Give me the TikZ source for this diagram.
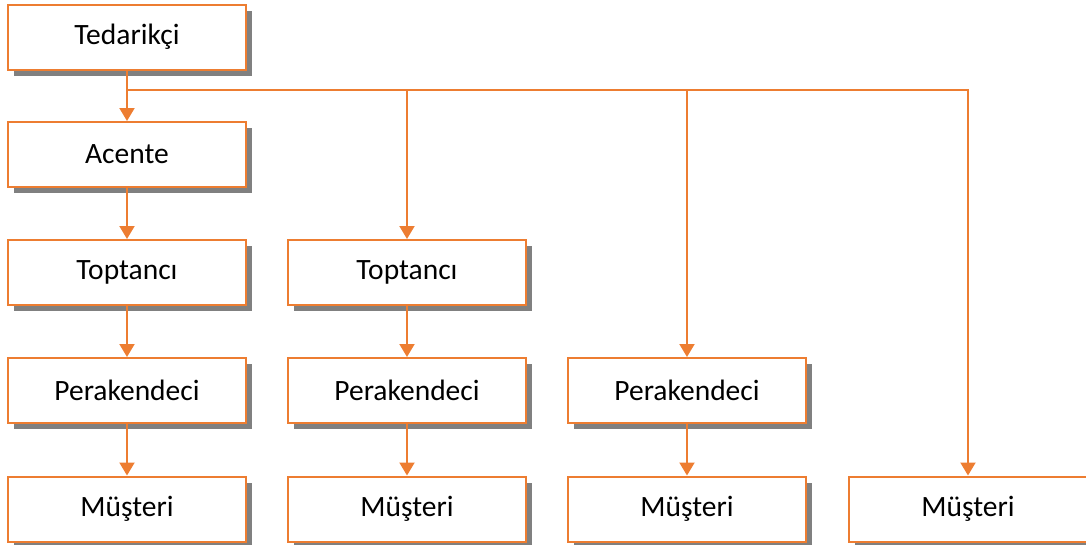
\documentclass[tikz,border=0pt]{standalone}
\usepackage{fontspec}
\setmainfont{Carlito}
\usetikzlibrary{arrows.meta,shadows}
\definecolor{orng}{HTML}{ED7D31}
\definecolor{shd}{HTML}{808080}
\begin{document}
\begin{tikzpicture}[x=1pt,y=-1pt,
  box/.style={draw=orng,line width=2pt,fill=white,minimum width=238pt,minimum height=65pt,inner sep=0pt,
    font=\fontsize{29.5}{34}\selectfont,
    drop shadow={shadow xshift=6pt,shadow yshift=-6pt,fill=shd,opacity=1}},
  conn/.style={draw=orng,line width=2pt,-{Triangle[width=15pt,length=13pt]}}]
\useasboundingbox (0,0) rectangle (1086,544);
\node[box] (ted) at (127,37) {Tedarikçi};
\node[box] (ace) at (127,154.5) {Acente};
\node[box] (top1) at (127,272.5) {Toptancı};
\node[box] (top2) at (407,272.5) {Toptancı};
\node[box] (per1) at (127,390.5) {Perakendeci};
\node[box] (per2) at (407,390.5) {Perakendeci};
\node[box] (per3) at (687,390.5) {Perakendeci};
\node[box] (mus1) at (127,509) {Müşteri};
\node[box] (mus2) at (407,509) {Müşteri};
\node[box] (mus3) at (687,509) {Müşteri};
\node[box] (mus4) at (968,509) {Müşteri};
\coordinate (j) at (127,90);
\draw[conn] (ted) -- (ace);
\draw[conn] (ace) -- (top1);
\draw[conn] (top1) -- (per1);
\draw[conn] (per1) -- (mus1);
\draw[conn] (top2) -- (per2);
\draw[conn] (per2) -- (mus2);
\draw[conn] (per3) -- (mus3);
\draw[conn] (j) -| (top2.north);
\draw[conn] (j) -| (per3.north);
\draw[conn] (j) -| (mus4.north);
\end{tikzpicture}
\end{document}
